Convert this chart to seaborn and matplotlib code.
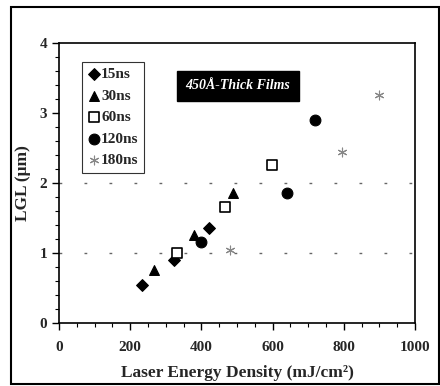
import matplotlib.pyplot as plt
import pandas as pd
import seaborn as sns
from matplotlib.patches import Rectangle

# 数据
pulse_15_x = [232, 323, 421]
pulse_15_y = [0.54, 0.89, 1.35]
pulse_30_x = [268, 380, 490]
pulse_30_y = [0.75, 1.26, 1.86]
pulse_60_x = [331, 466, 599]
pulse_60_y = [1.00, 1.66, 2.26]
pulse_120_x = [399, 640, 719]
pulse_120_y = [1.16, 1.86, 2.90]
pulse_180_x = [480, 794, 900]
pulse_180_y = [1.04, 2.44, 3.26]

series_names = ["15ns", "30ns", "60ns", "120ns", "180ns"]
series_x = [pulse_15_x, pulse_30_x, pulse_60_x, pulse_120_x, pulse_180_x]
series_y = [pulse_15_y, pulse_30_y, pulse_60_y, pulse_120_y, pulse_180_y]

rows = []
for name, xs, ys in zip(series_names, series_x, series_y):
    for x, y in zip(xs, ys):
        rows.append({"energy": x, "lgl": y, "pulse": name})
df = pd.DataFrame(rows)

sns.set_theme(style="ticks")
plt.rcParams["font.family"] = ["Liberation Serif", "DejaVu Serif"]
plt.rcParams["font.weight"] = "bold"

fig = plt.figure(figsize=(4.4, 3.86), dpi=100)
ax = fig.add_axes([0.134, 0.164, 0.809, 0.725])

markers = {"15ns": "D", "30ns": "^", "60ns": "s", "120ns": "o", "180ns": (6, 2, 0)}
colors = {"15ns": "black", "30ns": "black", "60ns": "white", "120ns": "black", "180ns": "#888888"}
sizes = {"15ns": 36, "30ns": 50, "60ns": 55, "120ns": 60, "180ns": 40}

for name in series_names:
    sub = df[df["pulse"] == name]
    sns.scatterplot(
        data=sub, x="energy", y="lgl", ax=ax,
        marker=markers[name], color=colors[name], s=sizes[name],
        edgecolor="black" if name != "180ns" else "#888888",
        linewidth=1.2 if name == "60ns" else 0.8, label=name,
    )

# 虚线网格
for yv in [1, 2]:
    ax.axhline(yv, color="#666666", lw=1, linestyle=(0, (2, 16)), zorder=0)

ax.set_xlim(0, 1000)
ax.set_ylim(0, 4)
ax.set_xticks([0, 200, 400, 600, 800, 1000])
ax.set_xticks(range(0, 1001, 50), minor=True)
ax.set_yticks([0, 1, 2, 3, 4])
ax.set_yticks([i * 0.2 for i in range(21)], minor=True)
ax.tick_params(axis="both", which="major", length=5, width=1, labelsize=11, color="black")
ax.tick_params(axis="x", which="major", pad=8)
ax.tick_params(axis="both", which="minor", length=3, width=0.8, color="black")
for lab in ax.get_xticklabels() + ax.get_yticklabels():
    lab.set_fontweight("bold")
for sp in ax.spines.values():
    sp.set_visible(True)
    sp.set_color("black")
    sp.set_linewidth(1.2)

ax.set_xlabel("Laser Energy Density (mJ/cm²)", fontsize=12.5, fontweight="bold", labelpad=8)
ax.set_ylabel("LGL (μm)", fontsize=12.5, fontweight="bold", labelpad=6)

leg = ax.legend(
    loc="upper left", bbox_to_anchor=(0.065, 0.932), borderaxespad=0, frameon=True, fancybox=False,
    handletextpad=0.0, handlelength=0.9, borderpad=0.35, labelspacing=0.52,
    prop={"weight": "bold", "size": 11},
)
leg.get_frame().set_edgecolor("black")
leg.get_frame().set_linewidth(0.8)

ax.text(
    0.503, 0.846, "450Å-Thick Films", transform=ax.transAxes, ha="center", va="center",
    color="white", fontsize=10, fontweight="bold", style="italic",
    bbox=dict(boxstyle="square,pad=0.6", facecolor="black", edgecolor="black"),
)

# 外框
fig.patches.append(Rectangle((0.025, 0.005), 0.972, 0.977, transform=fig.transFigure,
                             fill=False, edgecolor="black", linewidth=1.5))

plt.savefig("out.png", dpi=100)
